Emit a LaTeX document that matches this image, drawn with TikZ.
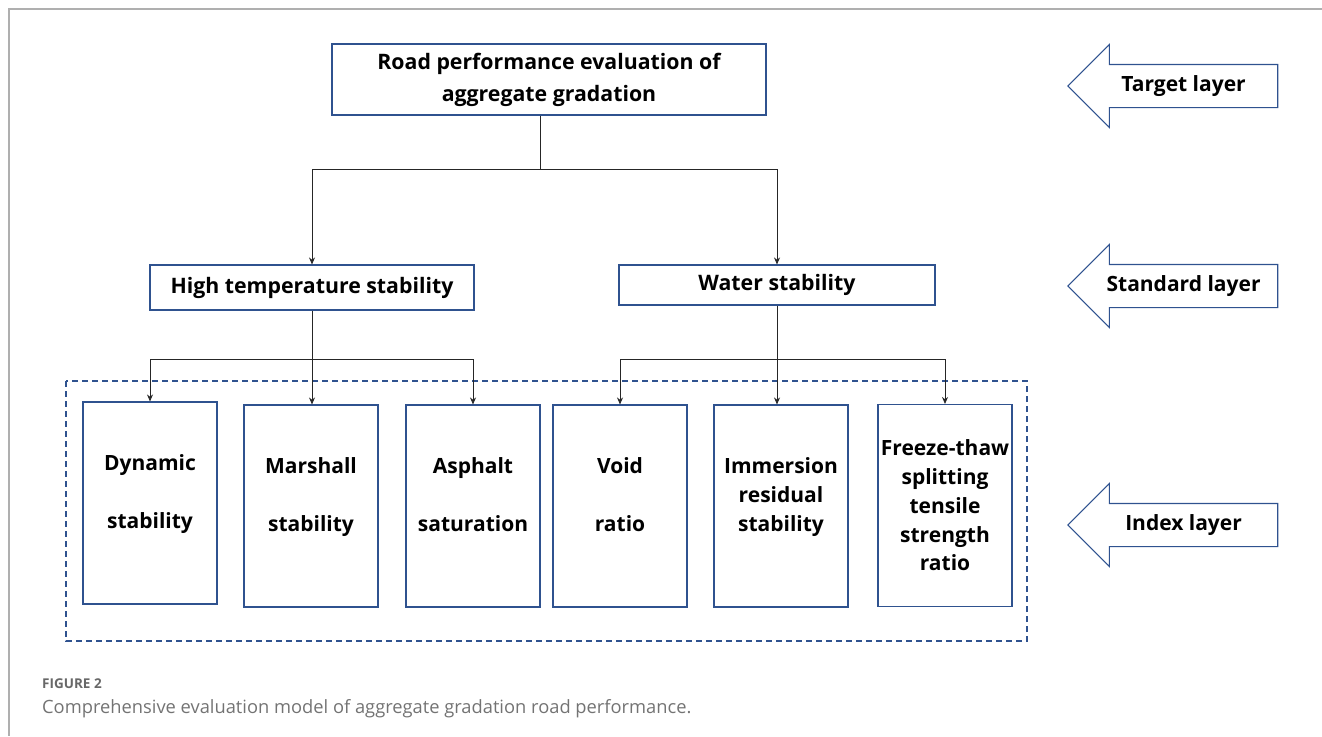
\documentclass[tikz,border=0pt]{standalone}
\usepackage{fontspec}
\setmainfont{Open Sans}
\newfontfamily\capfont{Open Sans}
\usetikzlibrary{shapes.arrows,arrows.meta,positioning,calc}
\definecolor{boxBlue}{RGB}{47,82,143}
\definecolor{frameGray}{RGB}{175,175,175}
\definecolor{capGray}{RGB}{115,115,115}

\begin{document}
\begin{tikzpicture}[x=1pt, y=-1pt,
        box/.style={rectangle, draw=boxBlue, line width=1.1pt, inner sep=0pt, align=center, font=\fontsize{21.3}{32}\selectfont\bfseries},
        index/.style={box, minimum width=134pt, minimum height=202pt, font=\fontsize{21}{28.8}\selectfont\bfseries},
        layer/.style={single arrow, draw=boxBlue, line width=1.1pt, shape border rotate=180, single arrow head extend=20pt, single arrow tip angle=90, minimum height=210pt, text height=15pt, text depth=5pt, inner ysep=11pt, inner xsep=0pt, font=\fontsize{21}{26}\selectfont\bfseries, anchor=tip},
        conn/.style={-{Stealth[length=7pt, width=6pt]}, line width=0.8pt, black!85}
    ]
        \useasboundingbox (0,0) rectangle (1322,736);
        % frame
        \draw[frameGray, line width=1.5pt] (1322,9) -- (9,9) -- (9,736);

        % Target layer
        \node[box, minimum width=434pt, minimum height=71pt] (goal) at (549,79.5) {Road performance evaluation of\\aggregate gradation};

        % Standard layer
        \node[box, minimum width=324pt, minimum height=45pt] (high) at (312,287.5) {High temperature stability};
        \node[box, minimum width=316pt, minimum height=40pt] (water) at (777,285) {Water stability};

        % Index layer
        \node[index, text depth=23pt] (dyn) at (150,503) {Dynamic\\[28.8pt]stability};
        \node[index, text depth=23pt] (mar) at (311,506) {Marshall\\[28.8pt]stability};
        \node[index, text depth=23pt] (asp) at (473,506) {Asphalt\\[28.8pt]saturation};
        \node[index, text depth=23pt] (void) at (620,506) {Void\\[28.8pt]ratio};
        \node[index, text depth=23pt] (imm) at (781,506) {Immersion\\residual\\stability};
        \node[index] (frz) at (945,505.5) {Freeze-thaw\\splitting\\tensile\\strength\\ratio};
        \draw[boxBlue, line width=1.1pt, dash pattern=on 6pt off 4pt] (66,381) rectangle (1027,641);

        % Connectors
        \coordinate (j1) at (540,169);
        \coordinate (j2) at (312,359);
        \coordinate (j3) at (777,359);
        \draw[conn, -] (j1 |- goal.south) -- (j1);
        \draw[conn] (j1) -| (high);
        \draw[conn] (j1) -| (water);
        \draw[conn] (high.south) -- (high.south |- mar.north);
        \draw[conn] (j2) -| (dyn);
        \draw[conn] (j2) -| (asp);
        \draw[conn] (water.south) -- (water.south |- imm.north);
        \draw[conn] (j3) -| (void);
        \draw[conn] (j3) -| (frz);

        % Layer arrows
        \node[layer] (tlayer) at (1067,86) {Target layer};
        \node[layer] (slayer) at (1067,286) {Standard layer};
        \node[layer] (ilayer) at (1067,525) {Index layer};

        % Caption
        \node[anchor=base west, inner sep=0pt, font=\capfont\fontsize{13.5}{16}\selectfont\bfseries, text=capGray!90!black] (fig) at (42,688) {FIGURE 2};
        \node[anchor=base west, inner sep=0pt, font=\capfont\fontsize{18.3}{22}\selectfont, text=capGray] (cap) at (42,713) {Comprehensive evaluation model of aggregate gradation road performance.};
    \end{tikzpicture}
\end{document}
